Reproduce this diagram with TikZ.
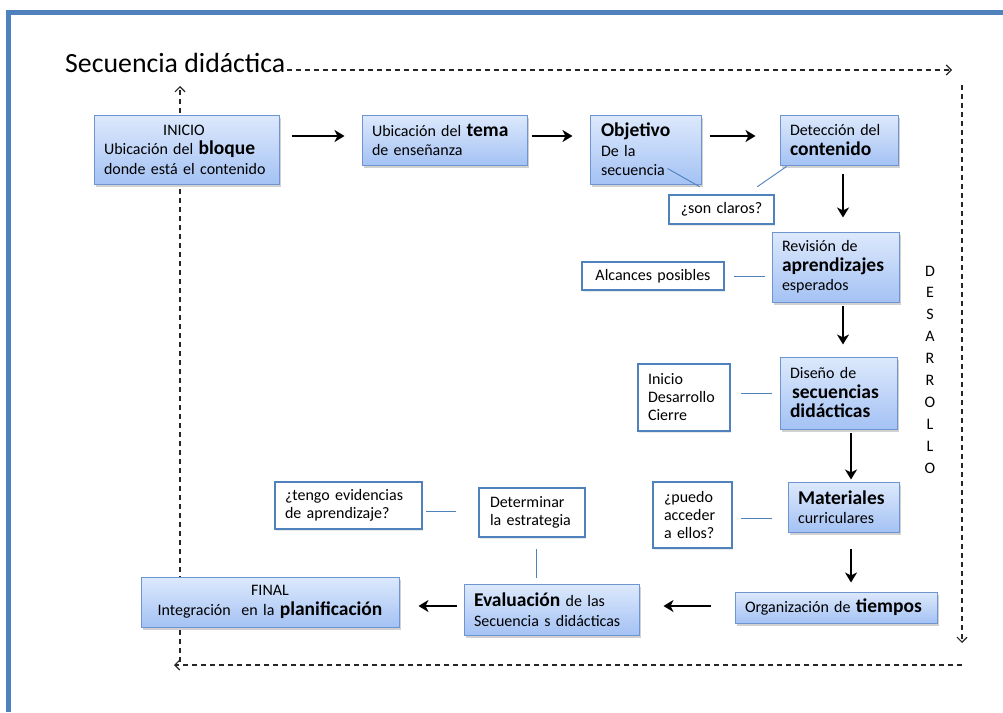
\documentclass[tikz,border=0pt]{standalone}
\usepackage{fontspec}
\setmainfont{Carlito}
\usetikzlibrary{calc,arrows.meta,shadows}
\definecolor{frameblue}{HTML}{4F81BD}
\definecolor{boxedge}{HTML}{6F95D0}
\definecolor{boxtop}{HTML}{DDE9FC}
\definecolor{boxbot}{HTML}{A4C2F4}
\newcommand\nsz{\fontsize{16}{19.5}\selectfont}
\newcommand\wsz{\fontsize{16}{18}\selectfont}
\newcommand\bigb[1]{{\fontsize{19.5}{19.5}\selectfont\bfseries #1}}
\tikzset{
  bluebox/.style={draw=boxedge, line width=1pt, top color=boxtop, bottom color=boxbot,
    drop shadow={shadow xshift=1.5pt, shadow yshift=-2.5pt, opacity=0.3, fill=black!60},
    inner ysep=0pt, font=\nsz, align=left},
  whitebox/.style={draw=frameblue, line width=2.4pt, fill=white,
    drop shadow={shadow xshift=1pt, shadow yshift=-1.5pt, opacity=0.15, fill=black!60},
    inner ysep=0pt, font=\wsz, align=left},
  arr/.style={line width=2.8pt, black, -{Stealth[length=10pt,width=12pt,inset=3pt]}},
  link/.style={draw=frameblue, line width=0.9pt},
  loop/.style={black!85, line width=1.2pt, dash pattern=on 5pt off 4pt,
    -{Straight Barb[length=5pt,width=10pt]}},
}
\begin{document}
\begin{tikzpicture}[x=1pt,y=-1pt]
\useasboundingbox (0,0) rectangle (1003,712);
% frame
\draw[frameblue, line width=5pt] (8.5,712) -- (8.5,12.5) -- (1003,12.5);
% title
\node[anchor=base west, inner sep=0pt, font=\fontsize{27.8}{30}\selectfont] (title) at (65,72) {Secuencia didáctica};
% dashed loop
\coordinate (c1) at (952,70);
\coordinate (c2) at (962,85);
\coordinate (c3) at (962,643);
\coordinate (c4) at (962,665);
\coordinate (c5) at (174,665);
\coordinate (c6) at (180,662);
\coordinate (c7) at (180,86);
\draw[loop] ($(title.base east)+(1,-2)$) -- (c1);
\draw[loop] (c2) -- (c3);
\draw[loop] (c4) -- (c5);
\draw[loop] (c6) -- (c7);
% DESARROLLO
\foreach \l [count=\i from 0] in {D,E,S,A,R,R,O,L,L,O}
  \node[anchor=base, inner sep=0pt, font=\nsz] (des\i) at (930,276+\i*21.9) {\l};
% blue boxes
\node[bluebox, text width=165pt, inner xsep=10pt, minimum height=69pt] (inicio) at (186.5,149.5)
  {\makebox[160pt][c]{INICIO}\\Ubicación del \bigb{bloque}\\donde está el contenido};
\node[bluebox, text width=145pt, inner xsep=10pt, minimum height=50pt] (tema) at (444.5,140)
  {Ubicación del \bigb{tema}\\de enseñanza};
\node[bluebox, text width=89pt, inner xsep=11pt, minimum height=69pt] (objetivo) at (645.5,149.5)
  {\bigb{Objetivo}\\De la\\secuencia};
\node[bluebox, text width=98pt, inner xsep=10pt, minimum height=50pt] (deteccion) at (839,140)
  {Detección del\\\bigb{contenido}};
\node[bluebox, text width=107pt, inner xsep=10pt, minimum height=70pt] (revision) at (835.5,267)
  {Revisión de\\\bigb{aprendizajes}\\esperados};
\node[bluebox, text width=97pt, inner xsep=10pt, minimum height=72pt] (diseno) at (838.5,393)
  {Diseño de\\\hspace*{2pt}\bigb{secuencias}\\\bigb{didácticas}};
\node[bluebox, text width=91pt, inner xsep=10pt, minimum height=50pt] (materiales) at (843.5,507)
  {\bigb{Materiales}\\curriculares};
\node[bluebox, text width=182pt, inner xsep=10pt, minimum height=31pt] (organizacion) at (836,607.5)
  {Organización de \bigb{tiempos}};
\node[bluebox, text width=155pt, inner xsep=10pt, minimum height=51pt] (evaluacion) at (551.5,609.5)
  {\bigb{Evaluación} de las\\Secuencia s didácticas};
\node[bluebox, text width=238pt, inner xsep=10pt, minimum height=50pt, align=center] (final) at (270,602)
  {FINAL\\Integración\ \ en la \bigb{planificación}};
% white boxes
\node[whitebox, text width=85pt, inner xsep=10pt, minimum height=29pt, align=center] (claros) at (721.5,209.5)
  {¿son claros?};
\node[whitebox, text width=122pt, inner xsep=10pt, minimum height=28pt, align=center] (alcances) at (653,276)
  {Alcances posibles};
\node[whitebox, text width=72pt, inner xsep=10pt, minimum height=67pt] (idc) at (684,397.5)
  {Inicio\\Desarrollo\\Cierre};
\node[whitebox, text width=57pt, inner xsep=11pt, minimum height=66pt] (puedo) at (692.5,515)
  {¿puedo\\acceder\\a ellos?};
\node[whitebox, text width=84pt, inner xsep=11pt, minimum height=49pt] (determinar) at (532,512.5)
  {Determinar\\la estrategia};
\node[whitebox, text width=127pt, inner xsep=10pt, minimum height=47pt] (tengo) at (348.5,505.5)
  {¿tengo evidencias\\de aprendizaje?};
% thin links
\draw[link] ($(alcances.east)+(9,0)$) -- ($(revision.west)+(-7,9)$);
\draw[link] ($(idc.east)+(10,-4.5)$) -- ($(diseno.west)+(-8,0)$);
\draw[link] ($(puedo.east)+(8,3)$) -- ($(materiales.west)+(-16,11)$);
\draw[link] ($(tengo.east)+(3,5.5)$) -- ($(determinar.west)+(-22,-1.5)$);
\draw[link] ($(determinar.south)+(4,11)$) -- ($(evaluacion.north)+(-15.5,-6)$);
\draw[link] ($(objetivo.south east)+(-34,-16)$) -- ($(claros.north west)+(32,-7)$);
\draw[link] ($(deteccion.south west)+(7,1)$) -- ($(claros.north east)+(-18,-7)$);
% arrows
\draw[arr] ($(inicio.east)+(12,-13.5)$) -- ($(tema.west)+(-17,-4)$);
\draw[arr] ($(tema.east)+(4,-4)$) -- ($(objetivo.west)+(-17,-13.5)$);
\draw[arr] ($(objetivo.east)+(8,-13.5)$) -- ($(deteccion.west)+(-24,-4)$);
\draw[arr] ($(deteccion.south)+(4,8)$) -- ($(revision.north)+(7.5,-14)$);
\draw[arr] ($(revision.south)+(7.5,3)$) -- ($(diseno.north)+(4.5,-12)$);
\draw[arr] ($(diseno.south)+(12.5,3)$) -- ($(materiales.north)+(7.5,-2)$);
\draw[arr] ($(materiales.south)+(7.5,16)$) -- ($(organizacion.north)+(15,-9)$);
\draw[arr] ($(organizacion.west)+(-24,-1.5)$) -- ($(evaluacion.east)+(24,-3.5)$);
\draw[arr] ($(evaluacion.west)+(-7,-3.5)$) -- ($(final.east)+(19,4)$);
\end{tikzpicture}
\end{document}
